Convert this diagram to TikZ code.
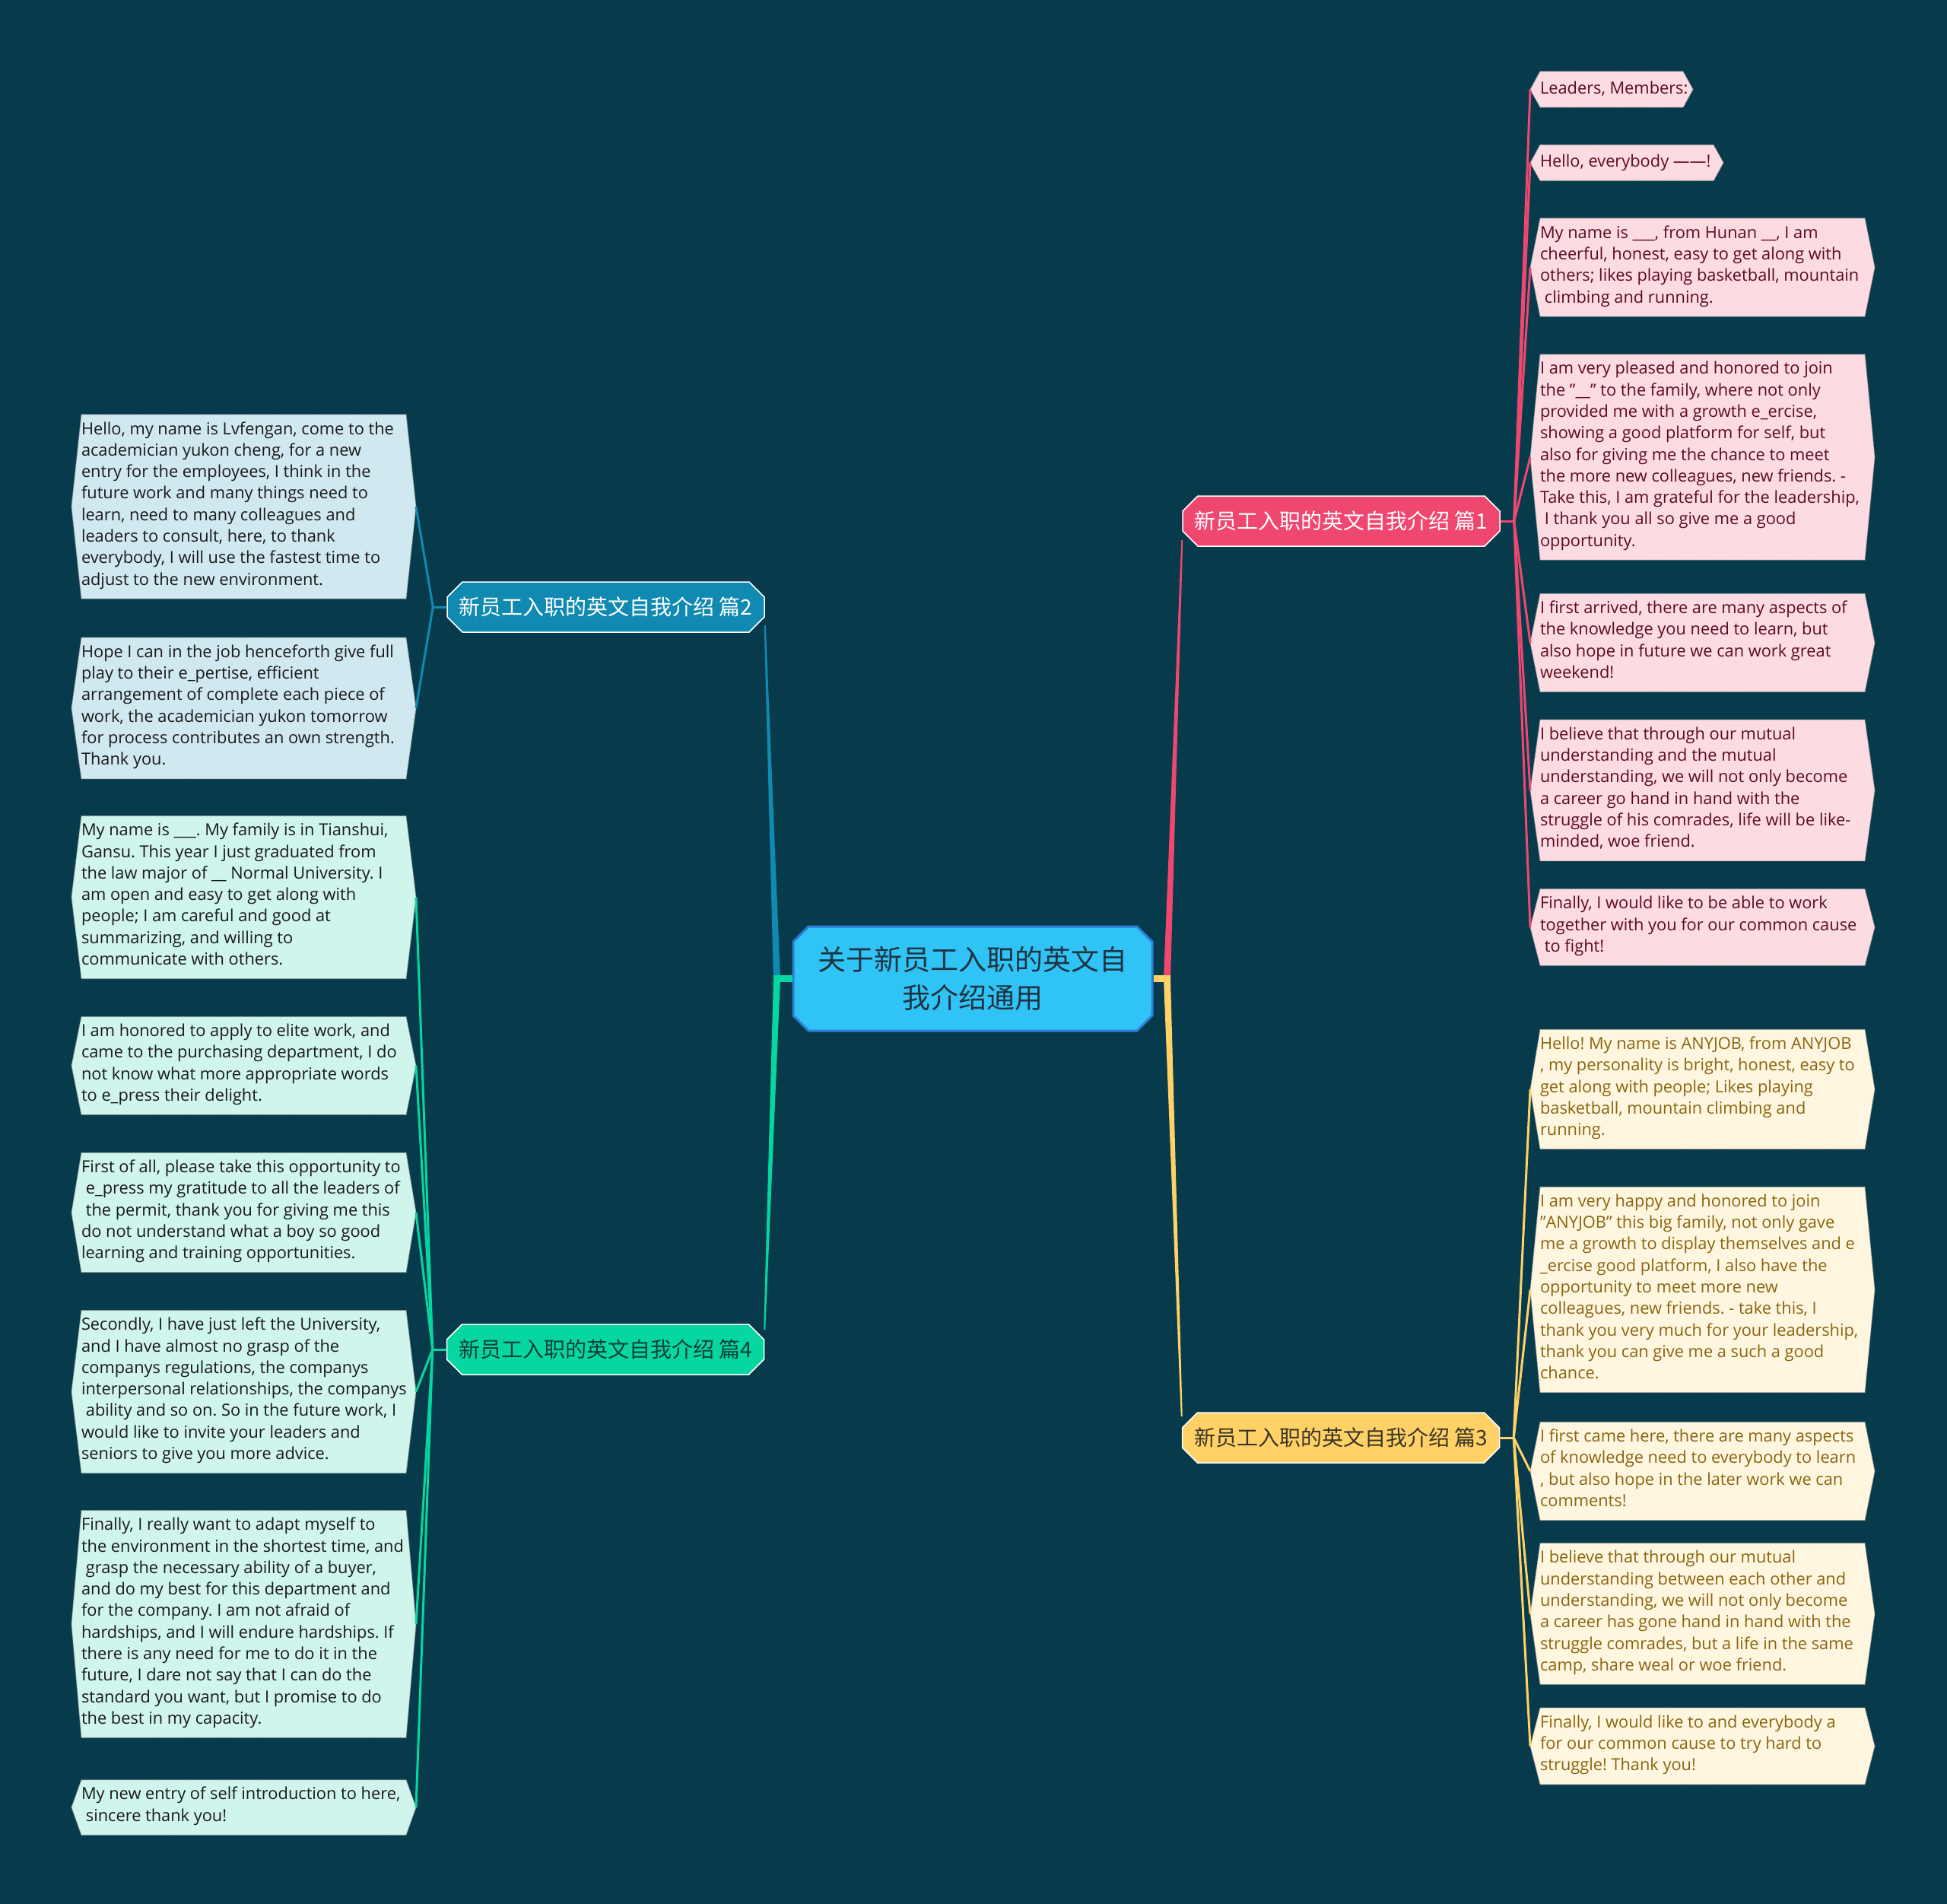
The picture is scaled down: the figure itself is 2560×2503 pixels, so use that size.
\documentclass[tikz,border=0pt]{standalone}
\usepackage{fontspec}
\setmainfont{Open Sans}
\newfontfamily\cjk{Noto Sans CJK SC}
\usepackage{tikz}
\usetikzlibrary{shapes.misc,backgrounds}

\definecolor{bgdark}{HTML}{073B4C}
\definecolor{rosered}{HTML}{EF476F}
\definecolor{oceanblue}{HTML}{118AB2}
\definecolor{sunyellow}{HTML}{FFD166}
\definecolor{mintgreen}{HTML}{06D6A0}
\definecolor{skyblue}{HTML}{30C4F6}
\definecolor{skyedge}{HTML}{2B7DD8}
\definecolor{hubtext}{HTML}{1F3340}
\definecolor{rosefill}{HTML}{FCDBE2}
\definecolor{rosetext}{HTML}{5C0B1F}
\definecolor{sunfill}{HTML}{FEF6DF}
\definecolor{suntext}{HTML}{8A6410}
\definecolor{oceanfill}{HTML}{D0E8F0}
\definecolor{mintfill}{HTML}{CFF5EC}
\definecolor{inkdark}{HTML}{1A1A1A}
\definecolor{suninked}{HTML}{3A3527}
\definecolor{mintinked}{HTML}{0F3D3A}

\newcommand\lsp{\hspace*{.27em}}
\frenchspacing

\begin{document}
\begin{tikzpicture}[x = 1pt, y = -1pt,
    leaf/.style = {anchor = west, inner xsep = 0pt, inner ysep = 9.5pt, outer sep = 0pt,
      align = left, font = {\fontsize{21.8}{28.3}\selectfont},
      execute at begin node = \strut, execute at end node = \strut},
    hexa/.style = {draw = black!40, densely dotted, line width = 1pt},
    topic/.style = {chamfered rectangle, chamfered rectangle xsep = 10pt,
      chamfered rectangle ysep = 10pt, draw = white, line width = 1.5pt,
      minimum width = 417pt, minimum height = 66pt, inner sep = 0pt,
      font = {\cjk\fontsize{28}{32}\selectfont}},
    hub/.style = {chamfered rectangle, chamfered rectangle xsep = 10pt,
      chamfered rectangle ysep = 10pt, fill = skyblue, draw = skyedge, line width = 3pt,
      minimum width = 472pt, minimum height = 137pt, align = center, text = hubtext,
      font = {\cjk\fontsize{37}{50}\selectfont}},
    twig/.style = {line width = 3pt},
  ]
  \useasboundingbox (0, 0) rectangle (2560, 2503);

  % centre and the four topics
  \node[hub] (cen) at (1279, 1286.5) {关于新员工入职的英文自\\我介绍通用};

  \node[topic, fill = rosered, text = white] (p1) at (1763.5, 685) {新员工入职的英文自我介绍 篇1};
  \node[topic, fill = oceanblue, text = white] (p2) at (796.5, 798) {新员工入职的英文自我介绍 篇2};
  \node[topic, fill = sunyellow, text = suninked] (p3) at (1763, 1890) {新员工入职的英文自我介绍 篇3};
  \node[topic, fill = mintgreen, text = mintinked] (p4) at (796, 1774) {新员工入职的英文自我介绍 篇4};

  % 篇1
  \node[leaf, text = rosetext] (r1) at (2025, 117.5) {Leaders, Members:};
  \node[leaf, text = rosetext] (r2) at (2025, 214) {Hello, everybody ——!};
  \node[leaf, text = rosetext] (r3) at (2025, 351.5) {My name is \_\_\_, from Hunan \_\_, I am\\cheerful, honest, easy to get along with\\others; likes playing basketball, mountain\\\lsp climbing and running.};
  \node[leaf, text = rosetext] (r4) at (2025, 601) {I am very pleased and honored to join\\the "\_\_" to the family, where not only\\provided me with a growth e\_ercise,\\showing a good platform for self, but\\also for giving me the chance to meet\\the more new colleagues, new friends. -\\Take this, I am grateful for the leadership,\\\lsp I thank you all so give me a good\\opportunity.};
  \node[leaf, text = rosetext] (r5) at (2025, 845) {I first arrived, there are many aspects of\\the knowledge you need to learn, but\\also hope in future we can work great\\weekend!};
  \node[leaf, text = rosetext] (r6) at (2025, 1039) {I believe that through our mutual\\understanding and the mutual\\understanding, we will not only become\\a career go hand in hand with the\\struggle of his comrades, life will be like-\\minded, woe friend.};
  \node[leaf, text = rosetext] (r7) at (2025, 1219) {Finally, I would like to be able to work\\together with you for our common cause\\\lsp to fight!};

  % 篇3
  \node[leaf, text = suntext] (y1) at (2025, 1432) {Hello! My name is ANYJOB, from ANYJOB\\, my personality is bright, honest, easy to\\get along with people; Likes playing\\basketball, mountain climbing and\\running.};
  \node[leaf, text = suntext] (y2) at (2025, 1695.5) {I am very happy and honored to join\\"ANYJOB" this big family, not only gave\\me a growth to display themselves and e\\\_ercise good platform, I also have the\\opportunity to meet more new\\colleagues, new friends. - take this, I\\thank you very much for your leadership,\\thank you can give me a such a good\\chance.};
  \node[leaf, text = suntext] (y3) at (2025, 1934) {I first came here, there are many aspects\\of knowledge need to everybody to learn\\, but also hope in the later work we can\\comments!};
  \node[leaf, text = suntext] (y4) at (2025, 2121.5) {I believe that through our mutual\\understanding between each other and\\understanding, we will not only become\\a career has gone hand in hand with the\\struggle comrades, but a life in the same\\camp, share weal or woe friend.};
  \node[leaf, text = suntext] (y5) at (2025, 2295.5) {Finally, I would like to and everybody a\\for our common cause to try hard to\\struggle! Thank you!};

  % 篇2
  \node[leaf, text = inkdark] (b1) at (107, 666) {Hello, my name is Lvfengan, come to the\\academician yukon cheng, for a new\\entry for the employees, I think in the\\future work and many things need to\\learn, need to many colleagues and\\leaders to consult, here, to thank\\everybody, I will use the fastest time to\\adjust to the new environment.};
  \node[leaf, text = inkdark] (b2) at (107, 931) {Hope I can in the job henceforth give full\\play to their e\_pertise, efficient\\arrangement of complete each piece of\\work, the academician yukon tomorrow\\for process contributes an own strength.\\Thank you.};

  % 篇4
  \node[leaf, text = inkdark] (g1) at (107, 1179.5) {My name is \_\_\_. My family is in Tianshui,\\Gansu. This year I just graduated from\\the law major of \_\_ Normal University. I\\am open and easy to get along with\\people; I am careful and good at\\summarizing, and willing to\\communicate with others.};
  \node[leaf, text = inkdark] (g2) at (107, 1401) {I am honored to apply to elite work, and\\came to the purchasing department, I do\\not know what more appropriate words\\to e\_press their delight.};
  \node[leaf, text = inkdark] (g3) at (107, 1594) {First of all, please take this opportunity to\\\lsp e\_press my gratitude to all the leaders of\\\lsp the permit, thank you for giving me this\\do not understand what a boy so good\\learning and training opportunities.};
  \node[leaf, text = inkdark] (g4) at (107, 1829.5) {Secondly, I have just left the University,\\and I have almost no grasp of the\\companys regulations, the companys\\interpersonal relationships, the companys\\\lsp ability and so on. So in the future work, I\\would like to invite your leaders and\\seniors to give you more advice.};
  \node[leaf, text = inkdark] (g5) at (107, 2135) {Finally, I really want to adapt myself to\\the environment in the shortest time, and\\\lsp grasp the necessary ability of a buyer,\\and do my best for this department and\\for the company. I am not afraid of\\hardships, and I will endure hardships. If\\there is any need for me to do it in the\\future, I dare not say that I can do the\\standard you want, but I promise to do\\the best in my capacity.};
  \node[leaf, text = inkdark] (g6) at (107, 2376) {My new entry of self introduction to here,\\\lsp sincere thank you!};

  % trunks from the centre
  \coordinate (jl) at ([xshift = -20pt]cen.west);
  \coordinate (jr) at ([xshift = 18pt]cen.east);
  \coordinate (e1) at ([yshift = -25pt]p1.west);
  \coordinate (e2) at ([yshift = -24pt]p2.east);
  \coordinate (e3) at ([yshift = 28pt]p3.west);
  \coordinate (e4) at ([yshift = 26pt]p4.east);

  \fill[oceanblue] ([xshift = -4.5pt]jl) -- ([xshift = -1pt]e2) -- ([xshift = 1pt]e2) -- ([xshift = 4.5pt]jl) -- cycle;
  \fill[mintgreen] ([xshift = -4.5pt]jl) -- ([xshift = -1pt]e4) -- ([xshift = 1pt]e4) -- ([xshift = 4.5pt]jl) -- cycle;
  \fill[rosered] ([xshift = -4.5pt]jr) -- ([xshift = -1pt]e1) -- ([xshift = 1pt]e1) -- ([xshift = 4.5pt]jr) -- cycle;
  \fill[sunyellow] ([xshift = -4.5pt]jr) -- ([xshift = -1pt]e3) -- ([xshift = 1pt]e3) -- ([xshift = 4.5pt]jr) -- cycle;
  \draw[mintgreen, line width = 9pt] (cen.west) -- ([xshift = -4.5pt]jl);
  \draw[sunyellow, line width = 9pt] (cen.east) -- ([xshift = 4.5pt]jr);

  % twigs to the leaves
  \coordinate (k1) at ([xshift = 18pt]p1.east);
  \coordinate (k2) at ([xshift = -18pt]p2.west);
  \coordinate (k3) at ([xshift = 18pt]p3.east);
  \coordinate (k4) at ([xshift = -18pt]p4.west);
  \draw[twig, rosered] (p1.east) -- (k1);
  \draw[twig, oceanblue] (p2.west) -- (k2);
  \draw[twig, sunyellow] (p3.east) -- (k3);
  \draw[twig, mintgreen] (p4.west) -- (k4);
  \foreach \n in {r1, r2, r3, r4, r5, r6, r7}
    \draw[twig, rosered] (k1) -- ([xshift = -13pt]\n.west);
  \foreach \n in {y1, y2, y3, y4, y5}
    \draw[twig, sunyellow] (k3) -- ([xshift = -13pt]\n.west);
  \foreach \n in {b1, b2}
    \draw[twig, oceanblue] (k2) -- ([xshift = 440pt]\n.west);
  \foreach \n in {g1, g2, g3, g4, g5, g6}
    \draw[twig, mintgreen] (k4) -- ([xshift = 440pt]\n.west);

  % backdrop and leaf plates
  \begin{scope}[on background layer]
    \fill[bgdark] (0, 0) rectangle (2560, 2503);
    \foreach \n/\c/\w in {r1/rosefill/188, r2/rosefill/228, r3/rosefill/427, r4/rosefill/427,
        r5/rosefill/427, r6/rosefill/427, r7/rosefill/427,
        y1/sunfill/427, y2/sunfill/427, y3/sunfill/427, y4/sunfill/427, y5/sunfill/427,
        b1/oceanfill/427, b2/oceanfill/427,
        g1/mintfill/427, g2/mintfill/427, g3/mintfill/427, g4/mintfill/427, g5/mintfill/427, g6/mintfill/427}
      \path[hexa, fill = \c] (\n.north west) -- ([xshift = -13pt]\n.west) -- (\n.south west)
        -- ([xshift = \w pt]\n.south west) -- ([xshift = \w pt + 13pt]\n.west)
        -- ([xshift = \w pt]\n.north west) -- cycle;
  \end{scope}
\end{tikzpicture}
\end{document}
